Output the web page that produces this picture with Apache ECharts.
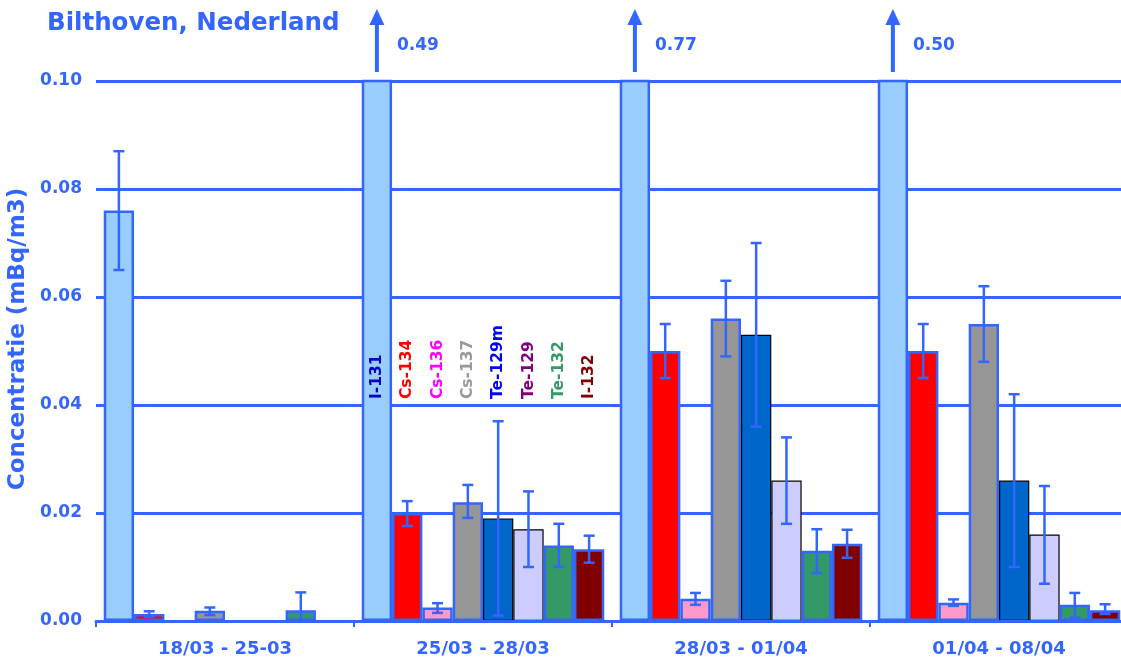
<!DOCTYPE html>
<html>
<head>
<meta charset="utf-8">
<script src="https://cdn.jsdelivr.net/npm/echarts@6/dist/echarts.min.js"></script>
<style>
html,body{margin:0;padding:0;background:#fff;}
#chart{width:1121px;height:663px;}
</style>
</head>
<body>
<div id="chart"></div>
<script>
// ---- data ----
const categories = ['18/03 - 25-03', '25/03 - 28/03', '28/03 - 01/04', '01/04 - 08/04'];
const seriesNames = ['I-131', 'Cs-134', 'Cs-136', 'Cs-137', 'Te-129m', 'Te-129', 'Te-132', 'I-132'];
const yTicks = [0, 0.02, 0.04, 0.06, 0.08, 0.10];

const I131   = [0.076, 0.49, 0.77, 0.50];
const Cs134  = [0.0013, 0.020, 0.050, 0.050];
const Cs136  = [null, 0.0025, 0.0041, 0.0034];
const Cs137  = [0.0019, 0.022, 0.056, 0.055];
const Te129m = [null, 0.019, 0.053, 0.026];
const Te129  = [null, 0.017, 0.026, 0.016];
const Te132  = [0.002, 0.014, 0.013, 0.003];
const I132   = [null, 0.0133, 0.0143, 0.002];

const I131Lo   = [0.065, null, null, null];
const I131Hi   = [0.087, null, null, null];
const Cs134Lo  = [0.0008, 0.0176, 0.045, 0.045];
const Cs134Hi  = [0.0018, 0.0222, 0.055, 0.055];
const Cs136Lo  = [null, 0.0015, 0.0030, 0.0028];
const Cs136Hi  = [null, 0.0033, 0.0052, 0.0040];
const Cs137Lo  = [0.0011, 0.0191, 0.049, 0.048];
const Cs137Hi  = [0.0025, 0.0252, 0.063, 0.062];
const Te129mLo = [null, 0.001, 0.036, 0.010];
const Te129mHi = [null, 0.037, 0.070, 0.042];
const Te129Lo  = [null, 0.010, 0.018, 0.0069];
const Te129Hi  = [null, 0.024, 0.034, 0.025];
const Te132Lo  = [-0.0012, 0.010, 0.0089, 0.0006];
const Te132Hi  = [0.0053, 0.018, 0.017, 0.0052];
const I132Lo   = [null, 0.0108, 0.0117, 0.0013];
const I132Hi   = [null, 0.0158, 0.0169, 0.0031];

// ---- styling ----
const BLUE = '#3366ff';
const FONT = 'DejaVu Sans, Verdana, sans-serif';
const values = [I131, Cs134, Cs136, Cs137, Te129m, Te129, Te132, I132];
const lows   = [I131Lo, Cs134Lo, Cs136Lo, Cs137Lo, Te129mLo, Te129Lo, Te132Lo, I132Lo];
const highs  = [I131Hi, Cs134Hi, Cs136Hi, Cs137Hi, Te129mHi, Te129Hi, Te132Hi, I132Hi];
const fills  = ['#99ccff', '#ff0000', '#ff99cc', '#969696', '#0066cc', '#ccccff', '#339966', '#800000'];
const borders = [BLUE, BLUE, BLUE, BLUE, '#000000', '#000000', BLUE, BLUE];
const borderW = [2.5, 2.5, 2.5, 2.5, 1.2, 1.2, 2.5, 2.5];
const labelColors = ['#0000cc', '#ff0000', '#ff00ff', '#999999', '#0000ff', '#800080', '#339966', '#800000'];
const GAP = 0.06;
const YMAX = 0.10;
const LABEL_CAT = 1;
const LABEL_VAL = 0.0411;

function barOffset(api, s) {
  const band = api.size([1, 0])[0];
  const w = band * (1 - GAP) / seriesNames.length;
  return { off: (s - (seriesNames.length - 1) / 2) * w, w: w };
}

const barSeries = seriesNames.map((n, i) => ({
  name: n,
  type: 'bar',
  data: values[i],
  barGap: 0,
  barCategoryGap: (GAP * 100) + '%',
  itemStyle: { color: fills[i], borderColor: borders[i], borderWidth: borderW[i] },
  z: 2,
  clip: true
}));

// error bars
const errData = [];
for (let s = 0; s < seriesNames.length; s++) {
  for (let c = 0; c < categories.length; c++) {
    if (lows[s][c] != null && highs[s][c] != null) errData.push([c, lows[s][c], highs[s][c], s]);
  }
}
const errSeries = {
  type: 'custom',
  name: 'err',
  data: errData,
  clip: true,
  z: 5,
  encode: { x: 0, y: [1, 2] },
  renderItem: function (params, api) {
    const c = api.value(0), s = api.value(3);
    const o = barOffset(api, s);
    const pLo = api.coord([c, api.value(1)]);
    const pHi = api.coord([c, api.value(2)]);
    const x = pLo[0] + o.off;
    const cap = 5.5;
    const st = { stroke: BLUE, lineWidth: 2.5 };
    return {
      type: 'group',
      children: [
        { type: 'line', shape: { x1: x, y1: pLo[1], x2: x, y2: pHi[1] }, style: st },
        { type: 'line', shape: { x1: x - cap, y1: pLo[1], x2: x + cap, y2: pLo[1] }, style: st },
        { type: 'line', shape: { x1: x - cap, y1: pHi[1], x2: x + cap, y2: pHi[1] }, style: st }
      ]
    };
  }
};

// arrows for bars exceeding the axis
const arrowData = [];
I131.forEach((v, c) => { if (v > YMAX) arrowData.push([c, v]); });
const arrowSeries = {
  type: 'custom',
  name: 'arrows',
  data: arrowData,
  clip: false,
  z: 6,
  encode: { x: 0, y: 1 },
  renderItem: function (params, api) {
    const c = api.value(0), v = api.value(1);
    const o = barOffset(api, 0);
    const p = api.coord([c, YMAX]);
    const x = p[0] + o.off;
    const yb = p[1] - 9;
    const yHead = p[1] - 57;
    const yTip = p[1] - 72;
    return {
      type: 'group',
      children: [
        { type: 'rect', shape: { x: x - 2, y: yHead, width: 4, height: yb - yHead }, style: { fill: BLUE } },
        { type: 'polygon', shape: { points: [[x - 7.5, yHead + 1], [x + 7.5, yHead + 1], [x, yTip]] }, style: { fill: BLUE } },
        { type: 'text', x: x + 20, y: p[1] - 35, style: { text: v.toFixed(2), fill: BLUE, font: 'bold 17px ' + FONT, align: 'left', verticalAlign: 'middle' } }
      ]
    };
  }
};

// series name labels inside second category
const labelData = seriesNames.map((n, s) => [LABEL_CAT, LABEL_VAL, s]);
const labelSeries = {
  type: 'custom',
  name: 'labels',
  data: labelData,
  clip: false,
  z: 7,
  encode: { x: 0, y: 1 },
  renderItem: function (params, api) {
    const s = api.value(2);
    const o = barOffset(api, s);
    const p = api.coord([api.value(0), api.value(1)]);
    return {
      type: 'text',
      x: p[0] + o.off,
      y: p[1],
      rotation: Math.PI / 2,
      style: { text: seriesNames[s], fill: labelColors[s], font: 'bold 15.5px ' + FONT, align: 'left', verticalAlign: 'middle' }
    };
  }
};

const chart = echarts.init(document.getElementById('chart'), null, { renderer: 'canvas' });
chart.setOption({
  animation: false,
  backgroundColor: '#ffffff',
  title: {
    text: 'Bilthoven, Nederland',
    left: 42,
    top: 6,
    textStyle: { color: BLUE, fontFamily: FONT, fontWeight: 'bold', fontSize: 24.5 }
  },
  grid: { left: 96, right: -7, top: 81, bottom: 42, containLabel: false, outerBoundsMode: 'none' },
  xAxis: {
    type: 'category',
    data: categories,
    boundaryGap: true,
    axisLine: { lineStyle: { color: BLUE, width: 3 } },
    axisTick: { show: true, length: 6, lineStyle: { color: BLUE, width: 2 } },
    axisLabel: { color: BLUE, fontFamily: FONT, fontWeight: 'bold', fontSize: 18, margin: 19 },
    splitLine: { show: false },
    z: 10
  },
  yAxis: {
    type: 'value',
    min: yTicks[0],
    max: yTicks[yTicks.length - 1],
    interval: yTicks[1] - yTicks[0],
    name: 'Concentratie (mBq/m3)',
    nameLocation: 'middle',
    nameGap: 62,
    nameTextStyle: { color: BLUE, fontFamily: FONT, fontWeight: 'bold', fontSize: 23, padding: [0, 0, 0, 24] },
    axisLine: { show: false },
    axisTick: { show: false },
    axisLabel: { color: BLUE, fontFamily: FONT, fontWeight: 'bold', fontSize: 17, margin: 14, formatter: v => v.toFixed(2) },
    splitLine: { lineStyle: { color: BLUE, width: 3 } }
  },
  legend: { show: false },
  series: barSeries.concat([errSeries, arrowSeries, labelSeries])
});
</script>
</body>
</html>
